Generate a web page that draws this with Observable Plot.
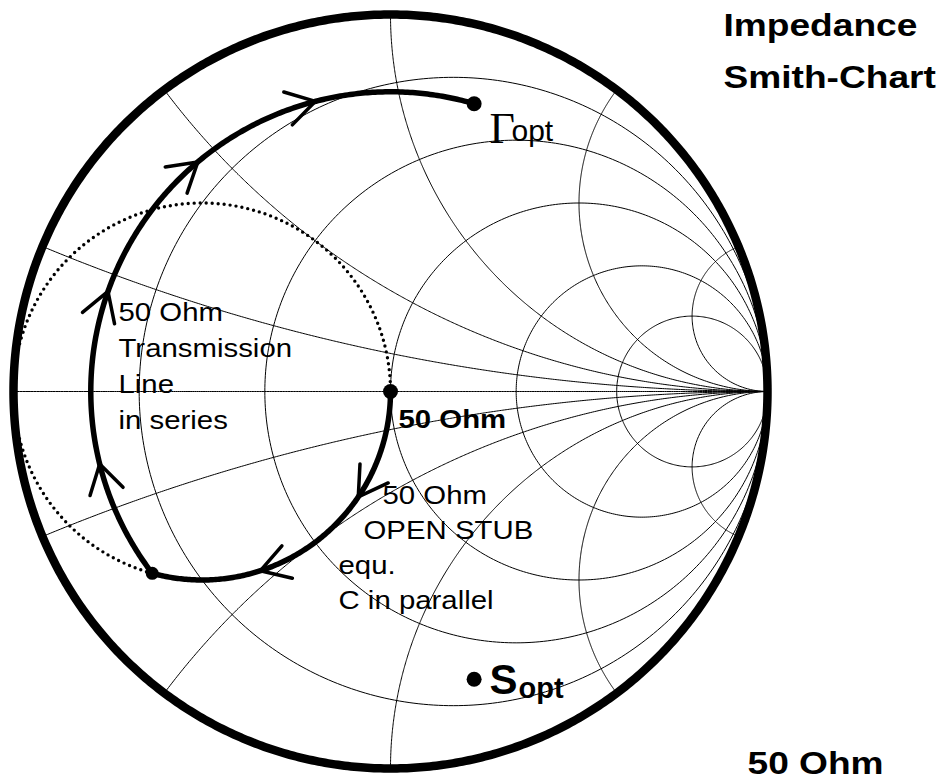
<!DOCTYPE html>
<html><head><meta charset="utf-8">
<script src="https://cdn.jsdelivr.net/npm/d3@7"></script>
<script src="https://cdn.jsdelivr.net/npm/@observablehq/plot@0.6"></script>
<style>
html,body{margin:0;padding:0;background:#fff;}
#chart{width:941px;height:780px;overflow:hidden;}
</style></head><body><div id="chart"></div>
<script>
// ---------- data (normalised impedance / reflection coefficient) ----------
const resistanceValues = [0.2, 0.5, 1, 2, 4];
const reactanceValues = [0.2, 0.5, 1, 2, 5];
const gammaOptMagnitude = 0.795;      // |Γopt|
const gammaOptAngleDeg = 73.8;        // ∠Γopt
const stubArrowAnglesDeg = [-34, -72];               // along g = 1 circle (from 50 Ohm)
const lineArrowAnglesDeg = [104.5, 130, 160.5, 194]; // along |Γ| = const circle
const titleLines = ["Impedance", "Smith-Chart"];
const lineLabelLines = ["50 Ohm", "Transmission", "Line", "in series"];
const stubLabelLines = ["50 Ohm", "OPEN STUB", "equ.", "C in parallel"];
const centerLabel = "50 Ohm";
const cornerLabel = "50 Ohm";

// ---------- geometry helpers ----------
const W = 941, H = 780, CX = 390, CY = 391, R = 377;
const rad = d => d * Math.PI / 180;
function arc(cx, cy, r, a0, a1, n, id) {
  const out = [];
  for (let i = 0; i <= n; i++) {
    const a = a0 + (a1 - a0) * i / n;
    out.push({x: cx + r * Math.cos(a), y: cy + r * Math.sin(a), id});
  }
  return out;
}
let grid = [];
resistanceValues.forEach(r => grid.push(...arc(r / (1 + r), 0, 1 / (1 + r), 0, 2 * Math.PI, 400, "r" + r)));
function reactanceArc(xv, id) {
  const out = [];
  const n = 400;
  for (let i = 0; i < n; i++) {
    const t = (Math.PI / 2) * i / n;
    const r = Math.tan(t);
    const D = (r + 1) ** 2 + xv * xv;
    out.push({x: (r * r + xv * xv - 1) / D, y: 2 * xv / D, id});
  }
  out.push({x: 1, y: 0, id});
  return out;
}
reactanceValues.forEach(v => {
  grid.push(...reactanceArc(v, "x+" + v));
  grid.push(...reactanceArc(-v, "x-" + v));
});
grid.push(...reactanceArc(0, "x0"));

const outer = arc(0, 0, 1, 0, 2 * Math.PI, 720, "outer");

// matching path
const rho = gammaOptMagnitude;
const gOpt = {x: rho * Math.cos(rad(gammaOptAngleDeg)), y: rho * Math.sin(rad(gammaOptAngleDeg))};
const B = {x: -rho * rho, y: -Math.sqrt(rho * rho - rho ** 4)};   // |Γ|=rho ∩ g=1
const phiB = Math.atan2(B.y, B.x + 0.5);
const stubArc = arc(-0.5, 0, 0.5, 0, phiB, 200, "stub");
const dottedArc = arc(-0.5, 0, 0.5, phiB, -2 * Math.PI, 300, "dots");
const thetaB = Math.atan2(B.y, B.x) + 2 * Math.PI;
const lineArc = arc(0, 0, rho, thetaB, rad(gammaOptAngleDeg), 300, "line");

// arrow chevrons
const ARM = 33 / R, HALF = rad(31);
const arms = [];
function chevron(p, t) {
  const bx = -t.x, by = -t.y;
  for (const s of [-1, 1]) {
    const c = Math.cos(s * HALF), sn = Math.sin(s * HALF);
    arms.push({x1: p.x, y1: p.y, x2: p.x + ARM * (bx * c - by * sn), y2: p.y + ARM * (bx * sn + by * c)});
  }
}
stubArrowAnglesDeg.forEach(d => {
  const a = rad(d);
  chevron({x: -0.5 + 0.5 * Math.cos(a), y: 0.5 * Math.sin(a)}, {x: Math.sin(a), y: -Math.cos(a)});
});
lineArrowAnglesDeg.forEach(d => {
  const a = rad(d);
  chevron({x: rho * Math.cos(a), y: rho * Math.sin(a)}, {x: Math.sin(a), y: -Math.cos(a)});
});

const bigDots = [{x: 0, y: 0}, {...gOpt}, {x: gOpt.x, y: -gOpt.y}];
const smallDots = [{...B}];

// label placement (Γ-plane coordinates)
const px = p => (p - CX) / R, py = p => (CY - p) / R;
const rows = (lines, xs, ys) => lines.map((t, i) => ({t, x: px(xs[i] ?? xs[0]), y: py(ys[i])}));
const titleRows = rows(titleLines, [723], [35, 87]);
const lineRows = rows(lineLabelLines, [118], [320.5, 356.5, 392.5, 428.5]);
const stubRows = rows(stubLabelLines, [382, 363, 338, 338], [503, 538, 573, 608]);
const centerRows = rows([centerLabel], [398], [427]);
const cornerRows = rows([cornerLabel], [747], [773]);

const sans = "Liberation Sans, Arial, Helvetica, sans-serif";
const txt = (data, o) => Plot.text(data, {x: "x", y: "y", text: "t", textAnchor: "start", lineAnchor: "bottom", fill: "black", fontFamily: sans, ...o});

const chart = Plot.plot({
  width: W, height: H,
  marginTop: 0, marginRight: 0, marginBottom: 0, marginLeft: 0,
  x: {domain: [-CX / R, (W - CX) / R], axis: null},
  y: {domain: [(CY - H) / R, CY / R], axis: null},
  style: {background: "white", overflow: "visible"},
  marks: [
    Plot.line(grid, {x: "x", y: "y", z: "id", stroke: "black", strokeWidth: 1}),
    Plot.line(dottedArc, {x: "x", y: "y", stroke: "black", strokeWidth: 3.4, strokeDasharray: "0 6", strokeLinecap: "round"}),
    Plot.line(outer, {x: "x", y: "y", stroke: "black", strokeWidth: 8.5}),
    Plot.line(stubArc, {x: "x", y: "y", stroke: "black", strokeWidth: 5.5, strokeLinecap: "round"}),
    Plot.line(lineArc, {x: "x", y: "y", stroke: "black", strokeWidth: 5.5, strokeLinecap: "round"}),
    Plot.link(arms, {x1: "x1", y1: "y1", x2: "x2", y2: "y2", stroke: "black", strokeWidth: 3.5, strokeLinecap: "round"}),
    Plot.dot(bigDots, {x: "x", y: "y", r: 7.5, fill: "black", stroke: null}),
    Plot.dot(smallDots, {x: "x", y: "y", r: 6.5, fill: "black", stroke: null}),
    txt(titleRows, {fontSize: 32, fontWeight: "bold"}),
    txt(cornerRows, {fontSize: 32, fontWeight: "bold"}),
    txt(lineRows, {fontSize: 26}),
    txt(stubRows, {fontSize: 26}),
    txt(centerRows, {fontSize: 26, fontWeight: "bold"}),
    Plot.text([{t: "Γ", x: px(489), y: py(142)}], {x: "x", y: "y", text: "t", textAnchor: "start", lineAnchor: "bottom", fontFamily: "Liberation Serif, Times New Roman, serif", fontSize: 44}),
    Plot.text([{t: "opt", x: px(511), y: py(140)}], {x: "x", y: "y", text: "t", textAnchor: "start", lineAnchor: "bottom", fontFamily: sans, fontSize: 30}),
    Plot.text([{t: "S", x: px(489), y: py(693)}], {x: "x", y: "y", text: "t", textAnchor: "start", lineAnchor: "bottom", fontFamily: sans, fontWeight: "bold", fontSize: 42}),
    Plot.text([{t: "opt", x: px(518), y: py(697)}], {x: "x", y: "y", text: "t", textAnchor: "start", lineAnchor: "bottom", fontFamily: sans, fontWeight: "bold", fontSize: 29})
  ]
});

// horizontal stretch of the label type (as in the original artwork)
const stretchBySize = {32: 1.16, 26: 1.13};
chart.querySelectorAll("text").forEach(t => {
  const g = t.parentNode;
  const s = stretchBySize[+g.getAttribute("font-size")];
  if (!s) return;
  let tr = t.getAttribute("transform");
  if (!tr) {
    const x = +(t.getAttribute("x") || 0), y = +(t.getAttribute("y") || 0);
    t.removeAttribute("x"); t.removeAttribute("y");
    tr = `translate(${x},${y})`;
  }
  t.setAttribute("transform", tr + ` scale(${s},1)`);
});
document.getElementById("chart").appendChild(chart);
</script></body></html>
